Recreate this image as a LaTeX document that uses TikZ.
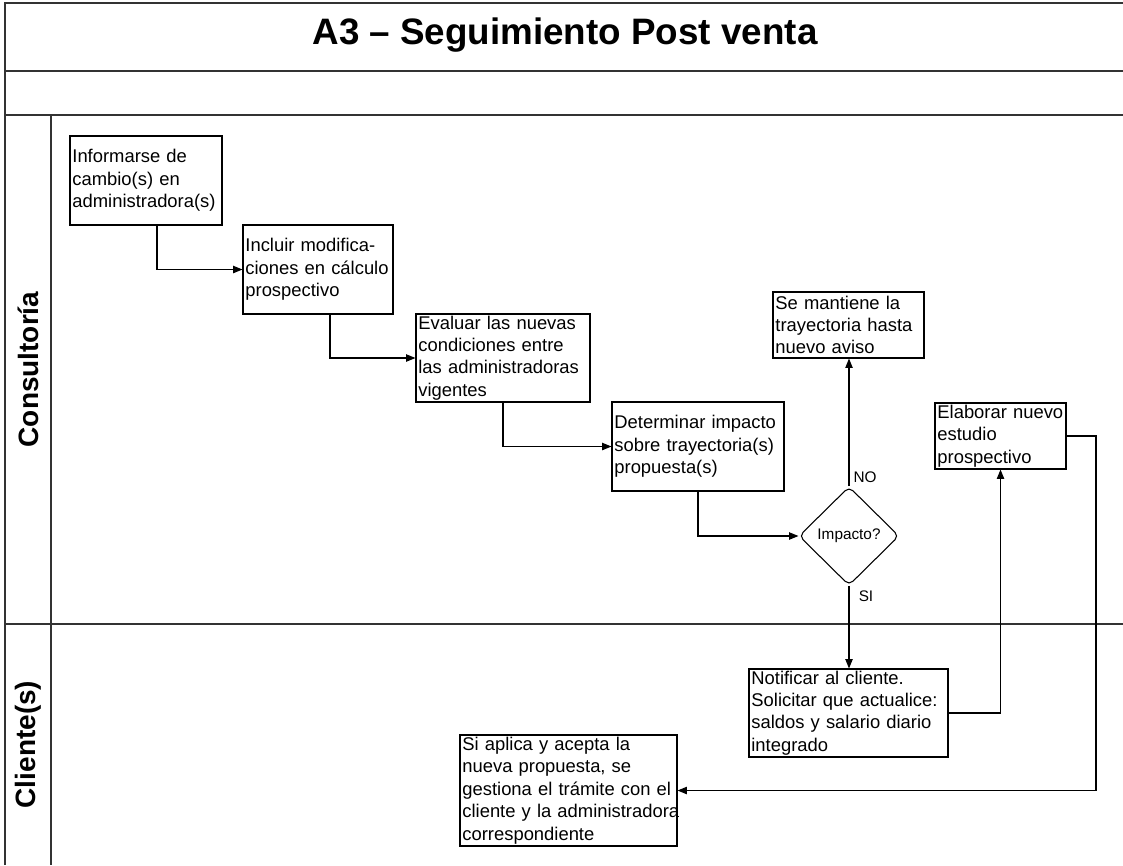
\documentclass[tikz,border=0pt]{standalone}
\usepackage{fontspec}
\setmainfont{Liberation Sans}
\usetikzlibrary{shapes.geometric,arrows.meta}
\begin{document}
\begin{tikzpicture}[x=0.75pt,y=-0.75pt,
  frame/.style={draw=black!80,line width=0.9pt},
  proc/.style={draw,line width=0.8pt,rectangle,inner xsep=1.8pt,inner ysep=0pt,align=left,
    font=\fontsize{13.8}{16.8}\selectfont},
  conn/.style={line width=0.8pt,-{Triangle[length=7pt,width=5.5pt]}},
  lane/.style={font=\fontsize{21}{24}\selectfont\bfseries,rotate=90,inner sep=0pt},
  lbl/.style={font=\fontsize{11.5}{13}\selectfont,inner sep=0pt},
  decision/.style={draw,line width=0.8pt,diamond,aspect=1,minimum width=75pt,minimum height=74pt,
    inner sep=0pt,rounded corners=4pt,font=\fontsize{11.5}{13}\selectfont}
]
\useasboundingbox (0,0) rectangle (1123,865);
% frame
\draw[frame] (5,865) -- (5,3) -- (1123,3);
\draw[frame] (5,71) -- (1123,71);
\draw[frame] (5,115) -- (1123,115);
\draw[frame] (51,115) -- (51,865);
\draw[frame] (5,624) -- (1123,624);
% titles
\node[font=\fontsize{27.6}{31}\selectfont\bfseries,anchor=base,inner sep=0pt] (title) at (565,44.5) {A3 – Seguimiento Post venta};
\node[lane] (lc) at (28,369.5) {Consultoría};
\node[lane] (lk) at (28,744.5) {Cliente(s)};
% process boxes
\node[proc,minimum width=114pt,minimum height=66.75pt,text width=110.4pt] (inf) at (146,180.5)
  {\mbox{Informarse de}\\\mbox{cambio(s) en}\\\mbox{administradora(s)}};
\node[proc,minimum width=112.5pt,minimum height=66.75pt,text width=108.9pt] (inc) at (318,269.5)
  {\mbox{Incluir modifica-}\\\mbox{ciones en cálculo}\\\mbox{prospectivo}};
\node[proc,minimum width=130.5pt,minimum height=66pt,text width=126.9pt] (eva) at (503,358)
  {\mbox{Evaluar las nuevas}\\\mbox{condiciones entre}\\\mbox{las administradoras}\\\mbox{vigentes}};
\node[proc,minimum width=129pt,minimum height=66.75pt,text width=125.4pt] (det) at (698,446.5)
  {\mbox{Determinar impacto}\\\mbox{sobre trayectoria(s)}\\\mbox{propuesta(s)}};
\node[decision] (dia) at (849,536) {Impacto?};
\node[proc,minimum width=113.25pt,minimum height=49.5pt,text width=109.65pt] (man) at (848.5,325)
  {\mbox{Se mantiene la}\\\mbox{trayectoria hasta}\\\mbox{nuevo aviso}};
\node[proc,minimum width=98.25pt,minimum height=49.5pt,text width=94.65pt] (ela) at (1000.5,436)
  {\mbox{Elaborar nuevo}\\\mbox{estudio}\\\mbox{prospectivo}};
\node[proc,minimum width=149.25pt,minimum height=66pt,text width=145.65pt] (not) at (848.5,713)
  {\mbox{Notificar al cliente.}\\\mbox{Solicitar que actualice:}\\\mbox{saldos y salario diario}\\\mbox{integrado}};
\node[proc,minimum width=162.75pt,minimum height=83.25pt,text width=159.15pt] (fin) at (568.5,790.5)
  {\mbox{Si aplica y acepta la}\\\mbox{nueva propuesta, se}\\\mbox{gestiona el trámite con el}\\\mbox{cliente y la administradora}\\\mbox{correspondiente}};
% labels
\node[lbl] (no) at (865,477) {NO};
\node[lbl] (si) at (866,596) {SI};
% connectors
\draw[conn] (inf.south -| 157,0) |- (inc.west);
\draw[conn] (inc.south -| 330,0) |- (eva.west);
\draw[conn] (eva.south) |- (det.west);
\draw[conn] (det.south) |- (dia.west);
\draw[conn] (dia.north) -- (dia.north |- man.south);
\draw[conn] (dia.south) -- (dia.south |- not.north);
\draw[conn] (not.east) -| (ela.south);
\draw[conn] (ela.east) -- (ela.east -| 1096,0) |- (fin.east);
\end{tikzpicture}
\end{document}
